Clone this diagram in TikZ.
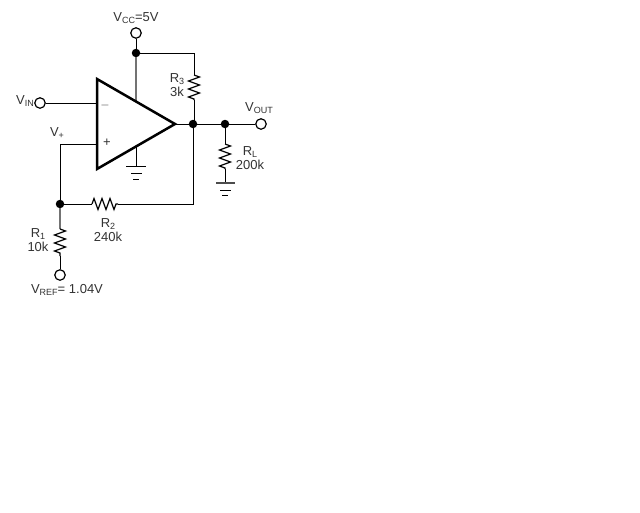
\documentclass[tikz,border=0pt]{standalone}
\usepackage{fontspec}
\setmainfont{Liberation Sans}
\usetikzlibrary{decorations.pathmorphing}
\newcommand{\lowtext}[1]{\raisebox{-2.5pt}{\fontsize{9}{9}\selectfont #1}}
\tikzset{
	wire/.style={line width=1pt,black},
	greywire/.style={line width=2pt,black!55},
	res/.style={line width=1.2pt,decorate,decoration={zigzag,segment length=8pt,amplitude=5.5pt}},
	term/.style={circle,draw=black,fill=white,line width=1.2pt,minimum size=10.5pt,inner sep=0pt},
	dot/.style={circle,fill=black,minimum size=8.5pt,inner sep=0pt},
	lbl/.style={text=black!80,inner sep=0pt,font=\fontsize{13}{14}\selectfont,align=center}
}
\begin{document}
\begin{tikzpicture}[x=1pt,y=-1pt]
	\useasboundingbox [fill=white] (0,0) rectangle (640,512);
	% amplifier
	\coordinate (ampa) at (97,79);
	\coordinate (ampb) at (97,169);
	\coordinate (ampc) at (175,124);
	\coordinate (ampvcc) at (136,101);
	\coordinate (ampgnd) at (136,147);
	\coordinate (inm) at (97,103);
	\coordinate (inp) at (97,144);
	% terminals and junctions
	\node [term] (vcc) at (136,33) {};
	\node [term] (vin) at (40,103) {};
	\node [term] (vout) at (261,124) {};
	\node [term] (vref) at (60,275) {};
	\node [dot] (jvcc) at (136,53) {};
	\node [dot] (jamp) at (193,124) {};
	\node [dot] (jload) at (225,124) {};
	\node [dot] (jfb) at (60,204) {};
	% resistor ends and corners
	\coordinate (ctop) at (194,53);
	\coordinate (rta) at (194,75);
	\coordinate (rtb) at (194,100);
	\coordinate (rla) at (225,144);
	\coordinate (rlb) at (225,169);
	\coordinate (gl) at (225,183);
	\coordinate (g) at (136,166);
	\coordinate (cplus) at (60,144);
	\coordinate (rfa) at (92,204);
	\coordinate (rfb) at (118,204);
	\coordinate (cfb) at (193,204);
	\coordinate (roa) at (60,229);
	\coordinate (rob) at (60,256);
	% wires
	\draw [wire] (vcc) -- (jvcc) -- (ctop) -- (rta);
	\draw [greywire] (jvcc) -- (ampvcc);
	\draw [res] (rta) -- (rtb);
	\draw [wire] (rtb) -- (rtb |- jamp);
	\draw [wire] (vin) -- (inm);
	\draw [wire] (inp) -- (cplus) -- (jfb);
	\draw [wire] (jfb) -- (rfa);
	\draw [res] (rfa) -- (rfb);
	\draw [wire] (rfb) -- (cfb) -- (jamp);
	\draw [wire] (ampc) -- (jamp) -- (jload) -- (vout);
	\draw [wire] (jload) -- (rla);
	\draw [res] (rla) -- (rlb);
	\draw [wire] (rlb) -- (gl);
	\draw [greywire] (jfb) -- (roa);
	\draw [res] (roa) -- (rob);
	\draw [wire] (rob) -- (vref);
	\draw [wire] (ampgnd) -- (g);
	% grounds
	\draw [wire] (126,166) -- (146,166) (131,173) -- (142,173) (133,179) -- (139,179);
	\draw [wire,black!70,line width=1.5pt] (216,183) -- (235,183);
	\draw [wire] (220,190) -- (231,190) (222,195) -- (228,195);
	\draw [line width=2.5pt,fill=white,line join=miter] (ampa) -- (ampb) -- (ampc) -- cycle;
	% labels
	\node [lbl] (lvcc) at (136,18) {V\lowtext{CC}=5V};
	\node [lbl] (lvin) at (25,101) {V\lowtext{IN}};
	\node [lbl] (lvout) at (259,108) {V\lowtext{OUT}};
	\node [lbl] (lplus) at (57,133) {V\lowtext{+}};
	\node [lbl] (lminus) at (105,105) {$-$};
	\node [lbl] (lpl) at (107,143) {+};
	\node [lbl] (lrt) at (177,85) {R\lowtext{3}\\3k};
	\node [lbl] (lrl) at (250,158) {R\lowtext{L}\\200k};
	\node [lbl] (lrf) at (108,230) {R\lowtext{2}\\240k};
	\node [lbl] (lro) at (38,240) {R\lowtext{1}\\10k};
	\node [lbl] (lvref) at (67,290) {V\lowtext{REF}= 1.04V};
\end{tikzpicture}
\end{document}
